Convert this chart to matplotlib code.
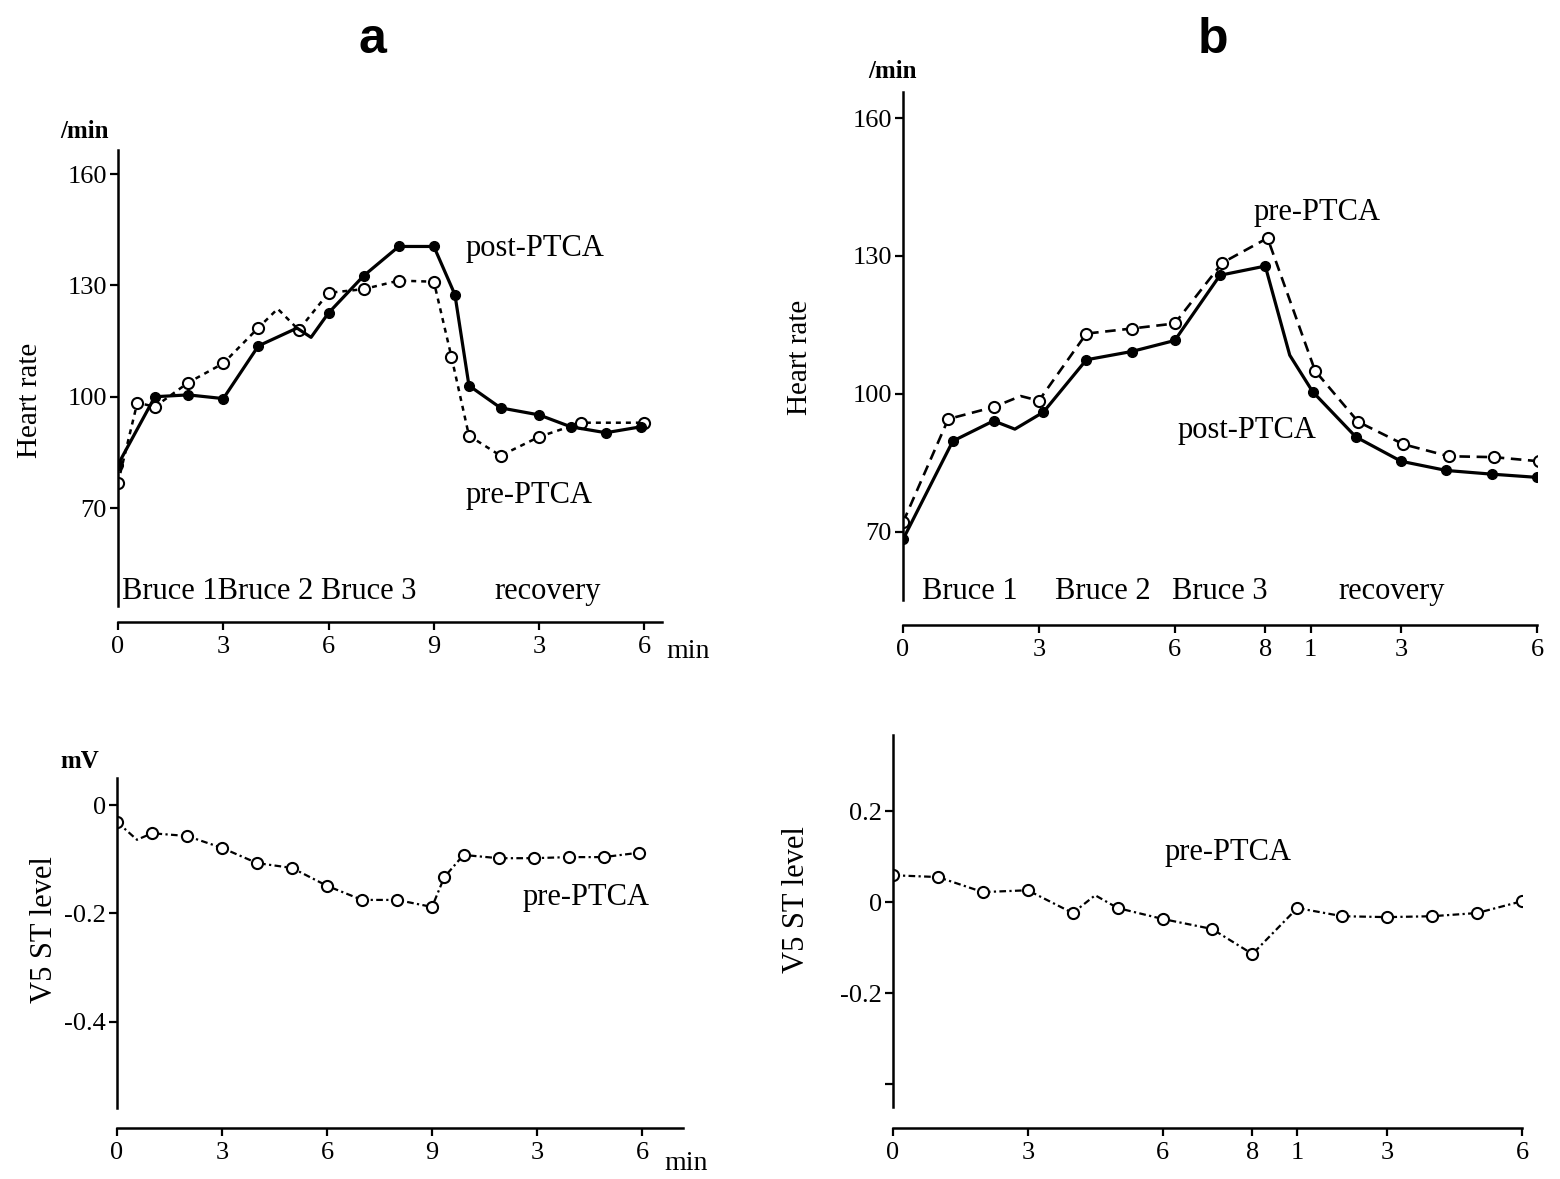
import numpy as np
import matplotlib
matplotlib.use("Agg")
import matplotlib.pyplot as plt

plt.rcParams['font.family'] = ['Liberation Serif', 'DejaVu Serif']

# ---- data ----
# panel a, heart rate (x: minutes, 0-9 exercise, 9-15 recovery)
a_post_t = [0, 1.05, 2, 3, 4, 5.1, 5.5, 6, 7, 8, 9, 9.6, 10, 10.9, 12, 12.9, 13.9, 14.9]
a_post_hr = [81.7, 100, 100.5, 99.5, 113.7, 118.5, 116, 122.6, 132.6, 140.5, 140.5, 127.5, 103, 97, 95.1, 91.9, 90.3, 91.9]
a_post_marks = [0, 1, 2, 3, 4, 7, 8, 9, 10, 11, 12, 13, 14, 15, 16, 17]

a_pre_t = [0, 0.55, 1.05, 2, 3, 4, 4.55, 5.15, 6, 7, 8, 9, 9.5, 10, 10.9, 12, 13.2, 15]
a_pre_hr = [76.8, 98.4, 97.3, 103.8, 109, 118.6, 123.7, 118, 128, 129, 131.3, 131, 110.8, 89.5, 84.1, 89.2, 93, 93]
a_pre_marks = [0, 1, 2, 3, 4, 5, 7, 8, 9, 10, 11, 12, 13, 14, 15, 16, 17]

# panel a, V5 ST level (pre-PTCA)
a_st_t = [0, 0.57, 1, 2, 3, 4, 5, 6, 7, 8, 9, 9.35, 9.9, 10.9, 11.9, 12.9, 13.9, 14.9]
a_st = [-0.031, -0.064, -0.052, -0.057, -0.079, -0.107, -0.116, -0.149, -0.175, -0.175,
        -0.188, -0.133, -0.092, -0.098, -0.098, -0.096, -0.096, -0.088]
a_st_marks = [0, 2, 3, 4, 5, 6, 7, 8, 9, 10, 11, 12, 13, 14, 15, 16, 17]

# panel b, heart rate (x: 0-8 exercise, 8-14 recovery)
b_post_t = [0, 1.1, 2, 2.47, 3.1, 4.05, 5.05, 6, 7, 8, 8.54, 9.05, 10, 11, 12, 13, 14]
b_post_hr = [68.3, 89.7, 94.1, 92.3, 96, 107.4, 109.2, 111.6, 125.8, 127.8, 108.4, 100.4, 90.6, 85.3, 83.3, 82.5, 81.8]
b_post_marks = [0, 1, 2, 4, 5, 6, 7, 8, 9, 11, 12, 13, 14, 15, 16]

b_pre_t = [0, 1, 2, 2.6, 3, 4.05, 5.05, 6, 7.05, 8.05, 9.1, 10.05, 11.05, 12.05, 13.05, 14.05]
b_pre_hr = [72, 94.5, 97.1, 99.5, 98.5, 113.1, 114.2, 115.3, 128.5, 133.9, 105, 93.9, 89, 86.4, 86.2, 85.3]
b_pre_marks = [0, 1, 2, 4, 5, 6, 7, 8, 9, 10, 11, 12, 13, 14, 15]

# panel b, V5 ST level (pre-PTCA)
b_st_t = [0, 1, 2, 3, 4, 4.5, 5, 6, 7.1, 8, 9, 10, 11, 12, 13, 14]
b_st = [0.059, 0.055, 0.022, 0.026, -0.024, 0.015, -0.013, -0.037, -0.059, -0.114,
        -0.013, -0.031, -0.033, -0.031, -0.024, 0.002]
b_st_marks = [0, 1, 2, 3, 4, 6, 7, 8, 9, 10, 11, 12, 13, 14, 15]

a_xticks = [0, 3, 6, 9, 12, 15]
a_xlabels = ['0', '3', '6', '9', '3', '6']
b_xticks = [0, 3, 6, 8, 9, 11, 14]
b_xlabels = ['0', '3', '6', '8', '1', '3', '6']
hr_ticks = [70, 100, 130, 160]
a_st_ticks = [0, -0.2, -0.4]
a_st_labels = ['0', '-0.2', '-0.4']
b_st_ticks = [0.2, 0, -0.2, -0.4]
b_st_labels = ['0.2', '0', '-0.2', '']

W, H = 1560, 1179
fig = plt.figure(figsize=(W / 100, H / 100), dpi=100)


def make_axes(x0, x1, y0, y1, xlim, ylim, drop):
    # pixel box (y measured from top) -> figure fraction
    ax = fig.add_axes([x0 / W, 1 - y1 / H, (x1 - x0) / W, (y1 - y0) / H])
    ax.set_xlim(*xlim)
    ax.set_ylim(*ylim)
    for s in ['top', 'right']:
        ax.spines[s].set_visible(False)
    ax.spines['left'].set_linewidth(1.8)
    ax.spines['bottom'].set_linewidth(1.8)
    ax.spines['bottom'].set_position(('outward', drop))
    ax.tick_params(axis='y', direction='out', length=6, width=1.6, labelsize=19, pad=2)
    ax.tick_params(axis='x', direction='out', length=6, width=1.6, labelsize=19, pad=4)
    ax.patch.set_alpha(0)
    return ax


def ftext(x, y, s, **kw):
    fig.text(x / W, 1 - y / H, s, **kw)


open_kw = dict(marker='o', markersize=8, markerfacecolor='white', markeredgecolor='black',
               markeredgewidth=1.5, color='black')
fill_kw = dict(marker='o', markersize=7, markerfacecolor='black', markeredgecolor='black',
               color='black')

# ---- panel a, heart rate ----
ax1 = make_axes(118, 662, 150, 606, (0, 15.5), (43.6, 166.5), 11.5)
ax1.plot(a_pre_t, a_pre_hr, linestyle=(0, (2, 2)), linewidth=1.8, markevery=a_pre_marks, zorder=2, **open_kw)
ax1.plot(a_post_t, a_post_hr, linestyle='-', linewidth=2.3, markevery=a_post_marks, zorder=3, **fill_kw)
ax1.set_xticks(a_xticks, a_xlabels)
ax1.set_yticks(hr_ticks)
ax1.text(0.12, 47.5, 'Bruce 1Bruce 2 Bruce 3', fontsize=22, va='center', ha='left')
ax1.text(12.25, 47.5, 'recovery', fontsize=22, va='center', ha='center')
ax1.text(9.9, 140, 'post-PTCA', fontsize=22, va='center', ha='left')
ax1.text(9.9, 73.5, 'pre-PTCA', fontsize=22, va='center', ha='left')

# ---- panel a, ST level ----
ax2 = make_axes(117, 683, 778, 1108, (0, 16.17), (-0.559, 0.05), 14.4)
ax2.plot(a_st_t, a_st, linestyle=(0, (3, 1.5, 1, 1.5)), linewidth=1.6, markevery=a_st_marks, **open_kw)
ax2.set_xticks(a_xticks, a_xlabels)
ax2.set_yticks(a_st_ticks, a_st_labels)
ax2.text(13.4, -0.17, 'pre-PTCA', fontsize=22, va='center', ha='center')

# ---- panel b, heart rate ----
ax3 = make_axes(903, 1537, 92, 600, (0, 14), (55.1, 165.7), 18)
ax3.plot(b_pre_t, b_pre_hr, linestyle=(0, (4, 2.5)), linewidth=1.9, markevery=b_pre_marks, zorder=2, **open_kw)
ax3.plot(b_post_t, b_post_hr, linestyle='-', linewidth=2.3, markevery=b_post_marks, zorder=3, **fill_kw)
ax3.set_xticks(b_xticks, b_xlabels)
ax3.set_yticks(hr_ticks)
ax3.text(1.48, 57.0, 'Bruce 1', fontsize=22, va='center', ha='center')
ax3.text(4.42, 57.0, 'Bruce 2', fontsize=22, va='center', ha='center')
ax3.text(7.0, 57.0, 'Bruce 3', fontsize=22, va='center', ha='center')
ax3.text(10.8, 57.0, 'recovery', fontsize=22, va='center', ha='center')
ax3.text(9.15, 139.5, 'pre-PTCA', fontsize=22, va='center', ha='center')
ax3.text(7.6, 91.9, 'post-PTCA', fontsize=22, va='center', ha='center')

# ---- panel b, ST level ----
ax4 = make_axes(893, 1522, 735, 1107, (0, 14), (-0.45, 0.367), 15)
ax4.plot(b_st_t, b_st, linestyle=(0, (3, 1.5, 1, 1.5)), linewidth=1.6, markevery=b_st_marks, **open_kw)
ax4.set_xticks(b_xticks, b_xlabels)
ax4.set_yticks(b_st_ticks, b_st_labels)
ax4.text(7.45, 0.11, 'pre-PTCA', fontsize=22, va='center', ha='center')

# ---- labels outside the axes ----
ftext(372, 40, 'a', fontsize=36, fontweight='bold', family='Liberation Sans', ha='center', va='center')
ftext(1213, 40, 'b', fontsize=36, fontweight='bold', family='Liberation Sans', ha='center', va='center')
ftext(84, 131, '/min', fontsize=18, fontweight='bold', ha='center', va='center')
ftext(893, 72, '/min', fontsize=18, fontweight='bold', ha='center', va='center')
ftext(30, 400, 'Heart rate', fontsize=21, rotation=90, ha='center', va='center')
ftext(800, 357, 'Heart rate', fontsize=21, rotation=90, ha='center', va='center')
ftext(80, 762, 'mV', fontsize=18, fontweight='bold', ha='center', va='center')
ftext(45, 930, 'V5 ST level', fontsize=22, rotation=90, ha='center', va='center')
ftext(797, 900, 'V5 ST level', fontsize=22, rotation=90, ha='center', va='center')
ftext(688, 652, 'min', fontsize=20, ha='center', va='center')
ftext(686, 1163, 'min', fontsize=20, ha='center', va='center')

fig.savefig('out.png', dpi=100)
